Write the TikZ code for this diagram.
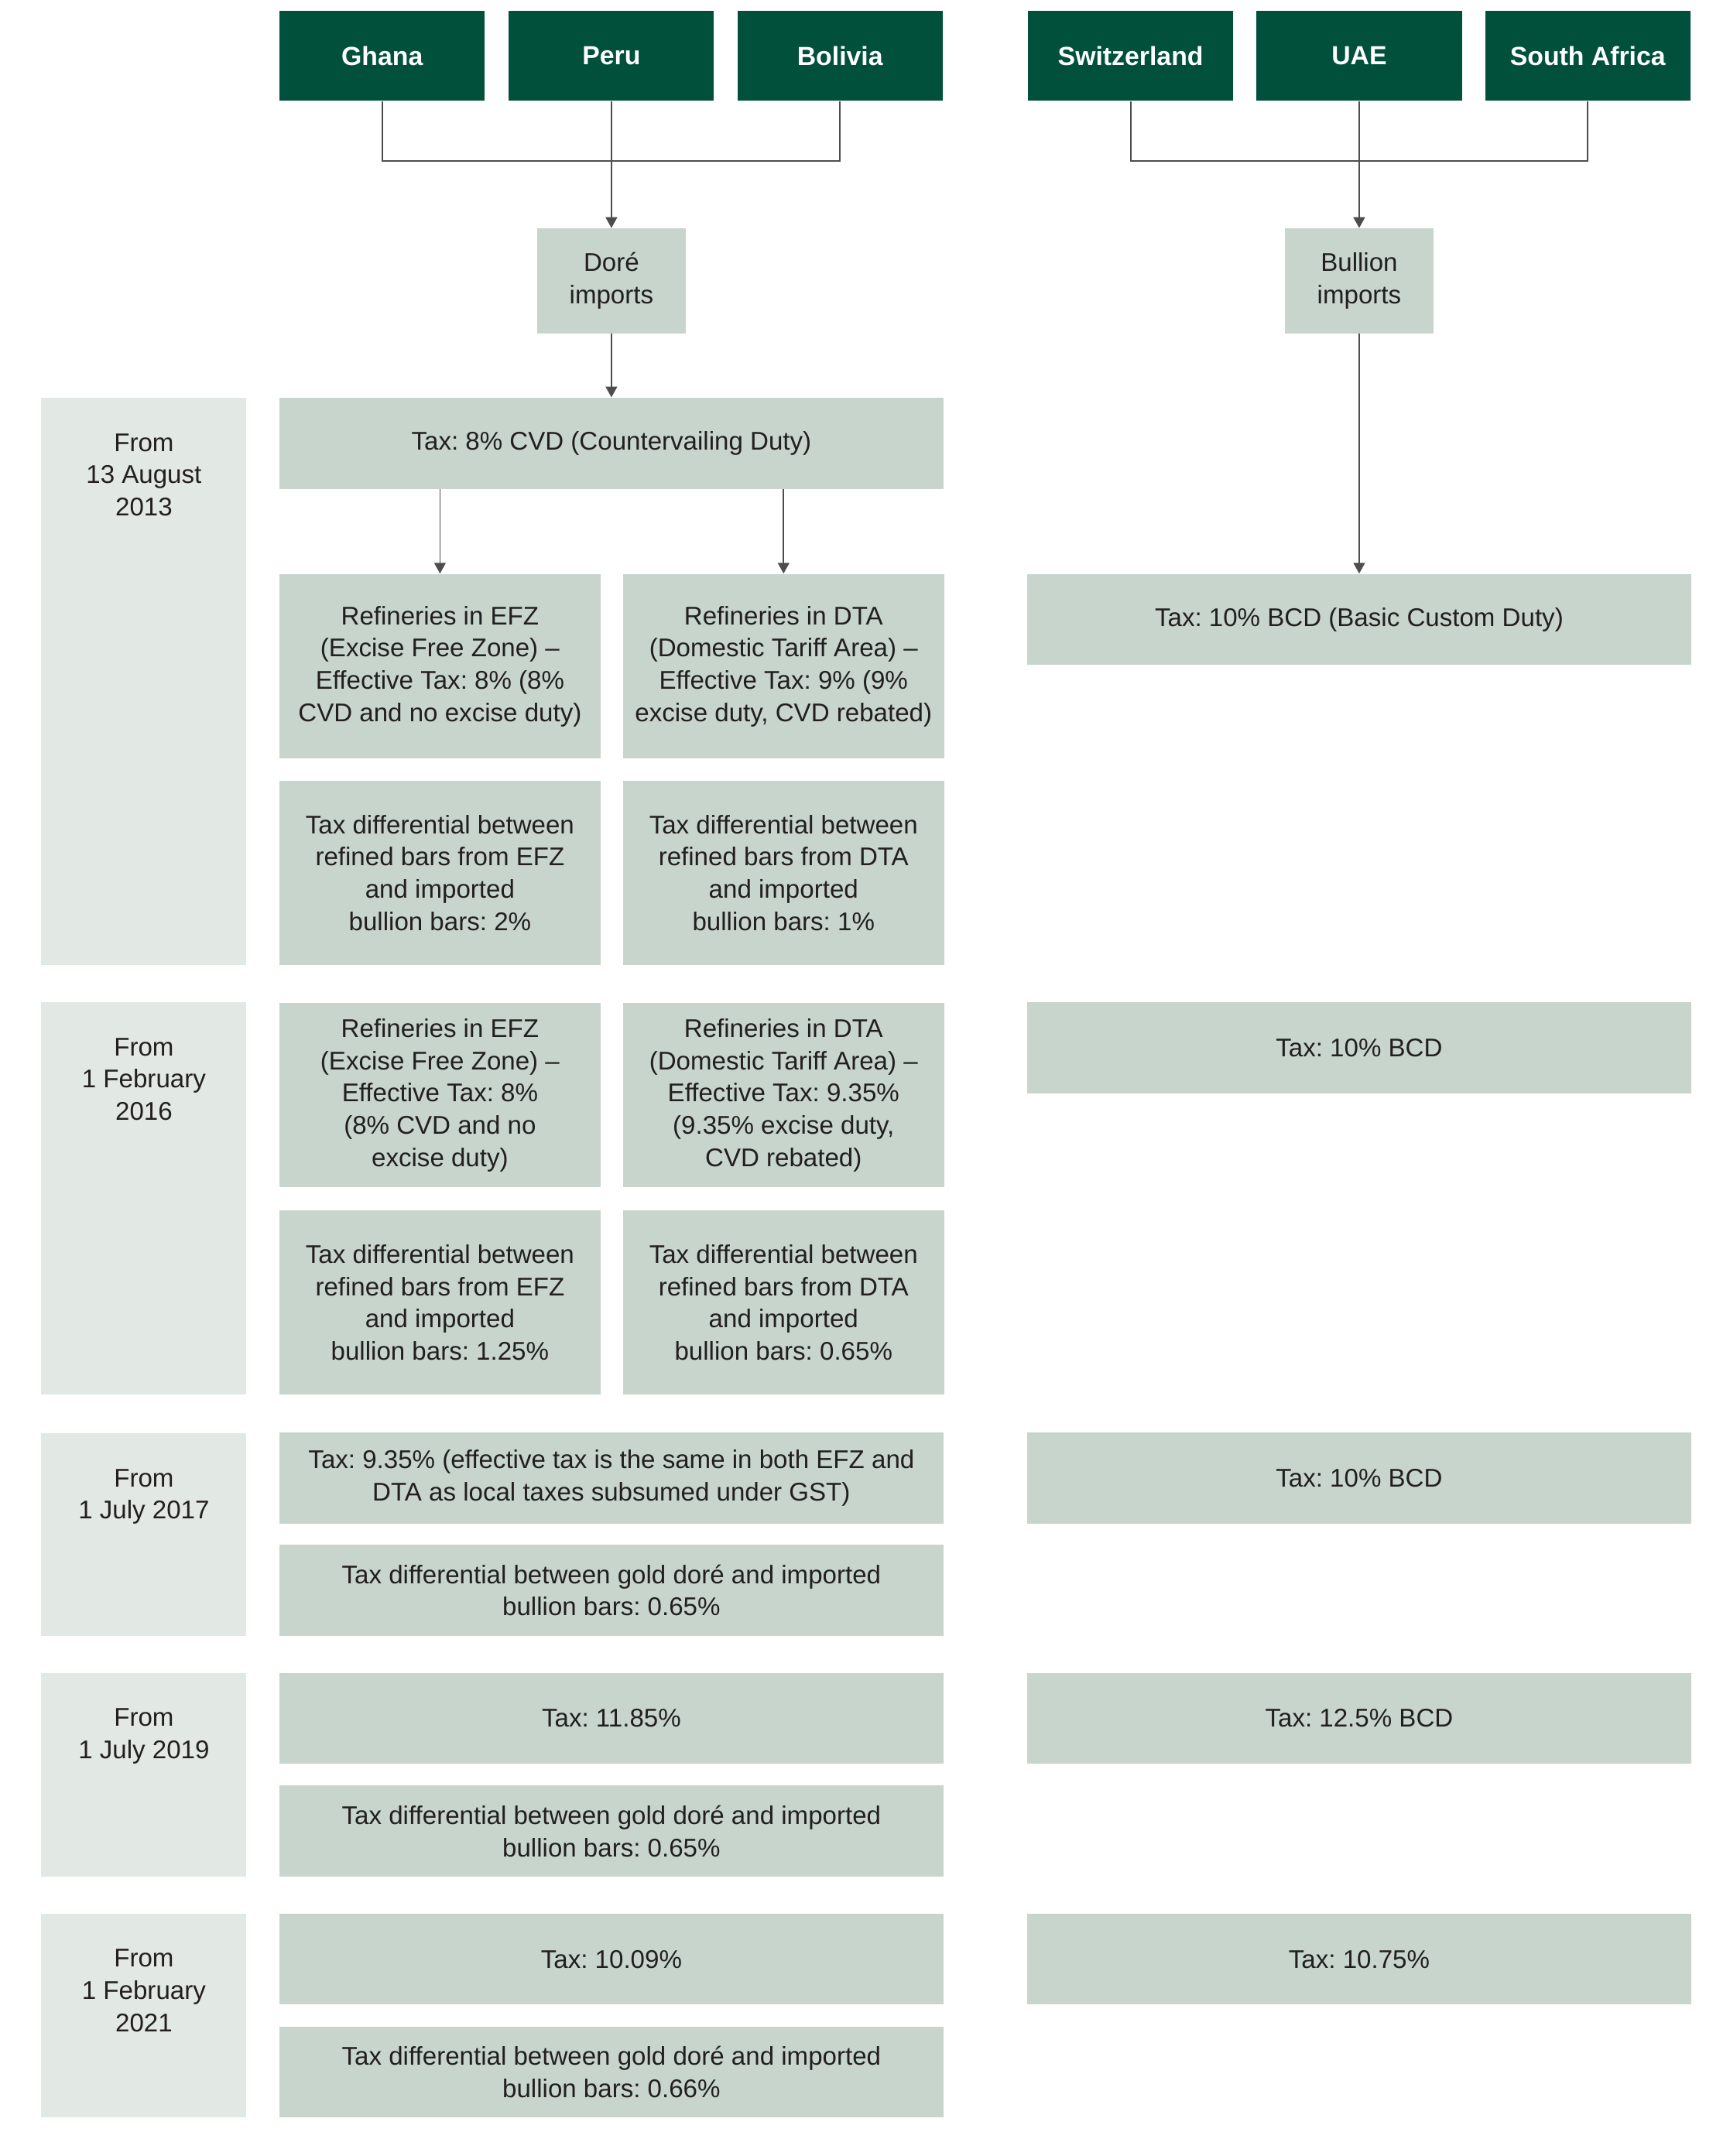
\documentclass[tikz,border=0pt]{standalone}
\usepackage{fontspec}
\setmainfont{Liberation Sans}
\frenchspacing
\usetikzlibrary{arrows.meta}
\definecolor{darkgreen}{HTML}{00503C}
\definecolor{boxgreen}{HTML}{C7D5CC}
\definecolor{dategrey}{HTML}{E2E8E4}
\definecolor{txt}{HTML}{231F20}
\definecolor{linegrey}{HTML}{4D4D4F}
\begin{document}
\begin{tikzpicture}[x=0.5pt,y=-0.5pt,
    every node/.style={inner sep=0pt,align=center,text=txt,font=\fontsize{9.3}{11.7}\selectfont},
    country/.style={fill=darkgreen,text=white,font=\fontsize{9.5}{11.7}\selectfont\bfseries,minimum width=74.5pt,minimum height=32.5pt},
    imports/.style={fill=boxgreen,minimum width=54pt,minimum height=38pt},
    wide/.style={fill=boxgreen,minimum width=241pt,minimum height=33pt},
    half/.style={fill=boxgreen,minimum width=116.5pt,minimum height=67pt},
    datebox/.style={fill=dategrey,minimum width=74.5pt},
    datetext/.style={anchor=north,yshift=-13pt},
    link/.style={draw=linegrey,line width=0.5pt},
    arr/.style={link,-{Triangle[length=3.9pt,width=4.2pt]}}]
  \useasboundingbox(0,0)rectangle(1256,1566);
  \node[country](ghana)at(277.5,40.5){Ghana};
  \node[country](peru)at(444,40.5){Peru};
  \node[country](bolivia)at(610,40.5){Bolivia};
  \node[country](swiss)at(821,40.5){Switzerland};
  \node[country](uae)at(987,40.5){UAE};
  \node[country](safrica)at(1153,40.5){South Africa};
  \node[imports](dore)at(444,204){Doré\\imports};
  \node[imports](bullion)at(987,204){Bullion\\imports};
  % 13 August 2013
  \node[datebox,minimum height=206pt](d1)at(104.5,495){};
  \node[datetext](d1t)at(d1.north){From\\13 August\\2013};
  \node[wide](cvd)at(444,322){Tax: 8\% CVD (Countervailing Duty)};
  \node[half](efz1)at(319.5,484){Refineries in EFZ\\(Excise Free Zone) –\\Effective Tax: 8\% (8\%\\CVD and no excise duty)};
  \node[half](dta1)at(569,484){Refineries in DTA\\(Domestic Tariff Area) –\\Effective Tax: 9\% (9\%\\excise duty, CVD rebated)};
  \node[wide](bcd1)at(987,450){Tax: 10\% BCD (Basic Custom Duty)};
  \node[half](diff1a)at(319.5,634){Tax differential between\\refined bars from EFZ\\and imported\\bullion bars: 2\%};
  \node[half](diff1b)at(569,634){Tax differential between\\refined bars from DTA\\and imported\\bullion bars: 1\%};
  % 1 February 2016
  \node[datebox,minimum height=142.5pt](d2)at(104.5,870.5){};
  \node[datetext](d2t)at(d2.north){From\\1 February\\2016};
  \node[half](efz2)at(319.5,795.5){Refineries in EFZ\\(Excise Free Zone) –\\Effective Tax: 8\%\\(8\% CVD and no\\excise duty)};
  \node[half](dta2)at(569,795.5){Refineries in DTA\\(Domestic Tariff Area) –\\Effective Tax: 9.35\%\\(9.35\% excise duty,\\CVD rebated)};
  \node[wide](bcd2)at(987,761){Tax: 10\% BCD};
  \node[half](diff2a)at(319.5,946){Tax differential between\\refined bars from EFZ\\and imported\\bullion bars: 1.25\%};
  \node[half](diff2b)at(569,946){Tax differential between\\refined bars from DTA\\and imported\\bullion bars: 0.65\%};
  % 1 July 2017
  \node[datebox,minimum height=73.5pt](d3)at(104.5,1114.5){};
  \node[datetext](d3t)at(d3.north){From\\1 July 2017};
  \node[wide](tax3)at(444,1073.5){Tax: 9.35\% (effective tax is the same in both EFZ and\\DTA as local taxes subsumed under GST)};
  \node[wide](bcd3)at(987,1073.5){Tax: 10\% BCD};
  \node[wide](diff3)at(444,1155){Tax differential between gold doré and imported\\bullion bars: 0.65\%};
  % 1 July 2019
  \node[datebox,minimum height=74pt](d4)at(104.5,1289){};
  \node[datetext](d4t)at(d4.north){From\\1 July 2019};
  \node[wide](tax4)at(444,1248){Tax: 11.85\%};
  \node[wide](bcd4)at(987,1248){Tax: 12.5\% BCD};
  \node[wide](diff4)at(444,1330){Tax differential between gold doré and imported\\bullion bars: 0.65\%};
  % 1 February 2021
  \node[datebox,minimum height=74pt](d5)at(104.5,1464){};
  \node[datetext](d5t)at(d5.north){From\\1 February\\2021};
  \node[wide](tax5)at(444,1423){Tax: 10.09\%};
  \node[wide](bcd5)at(987,1423){Tax: 10.75\%};
  \node[wide](diff5)at(444,1505){Tax differential between gold doré and imported\\bullion bars: 0.66\%};
  % connectors
  \coordinate(jl)at(444,117);
  \coordinate(jr)at(987,117);
  \draw[link](ghana.south)|-(jl)-|(bolivia.south);
  \draw[link](swiss.south)|-(jr)-|(safrica.south);
  \draw[arr](peru)--(dore);
  \draw[arr](uae)--(bullion);
  \draw[arr](dore)--(cvd);
  \draw[arr](cvd.south-|efz1)--(efz1);
  \draw[arr](cvd.south-|dta1)--(dta1);
  \draw[arr](bullion)--(bcd1);
\end{tikzpicture}
\end{document}
